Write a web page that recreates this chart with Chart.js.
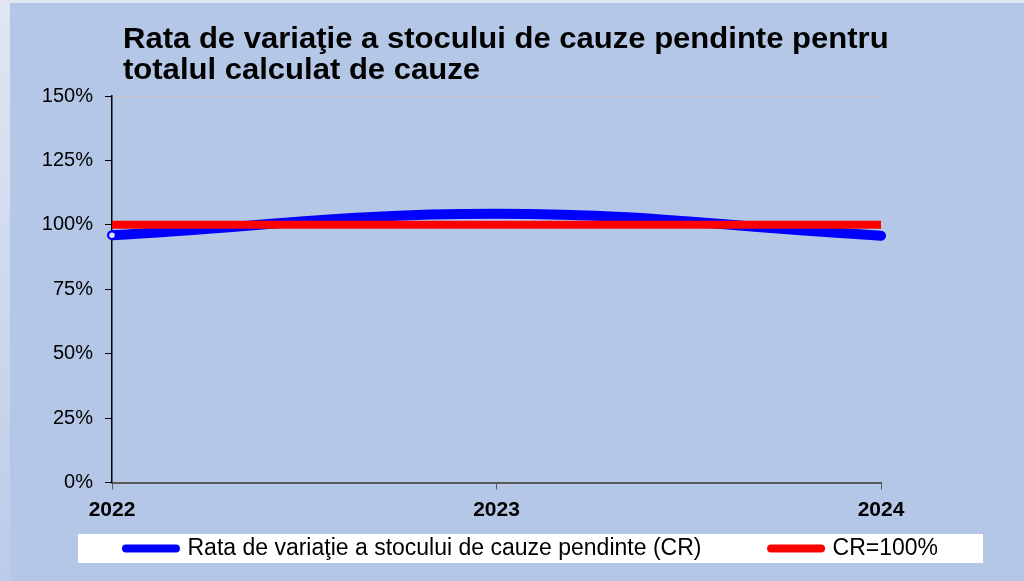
<!DOCTYPE html>
<html>
<head>
<meta charset="utf-8">
<script src="https://cdn.jsdelivr.net/npm/chart.js@4.4.0/dist/chart.umd.min.js"></script>
<style>
  html, body { margin: 0; padding: 0; background: #dde5f3; }
  #wrap { width: 1024px; height: 581px; }
</style>
</head>
<body>
<div id="wrap"><canvas id="rateChart"></canvas></div>
<script>
const years = ['2022', '2023', '2024'];
const crValues = [96.0, 104.3, 95.8];
const crTarget = [100, 100, 100];
const yTicks = [0, 25, 50, 75, 100, 125, 150];
const titleLines = ['Rata de variaţie a stocului de cauze pendinte pentru', 'totalul calculat de cauze'];
const seriesNames = ['Rata de variaţie a stocului de cauze pendinte (CR)', 'CR=100%'];

const FONT = "'Liberation Sans', Arial, sans-serif";

// page background, outer light strip and white legend band
const backdrop = {
  id: 'backdrop',
  beforeDraw(chart) {
    const { ctx, width, height } = chart;
    ctx.save();
    const g = ctx.createLinearGradient(0, 0, 0, height);
    g.addColorStop(0, '#e0e7f3');
    g.addColorStop(1, '#bccbe8');
    ctx.fillStyle = g;
    ctx.fillRect(0, 0, width, height);
    ctx.fillStyle = '#b4c7e7';
    ctx.fillRect(10, 3, width - 10, height - 3);

    const boxes = chart.legend && chart.legend.legendHitBoxes;
    if (boxes && boxes.length) {
      const first = boxes[0], last = boxes[boxes.length - 1];
      const midY = first.top + first.height / 2;
      const x0 = first.left - 48;
      const x1 = last.left + last.width + 45;
      ctx.fillStyle = '#ffffff';
      ctx.fillRect(x0, midY - 14.5, x1 - x0, 29);
    }
    ctx.restore();
  }
};

// two-line left aligned title, slightly widened like the original
const titleText = {
  id: 'titleText',
  afterDraw(chart) {
    const { ctx } = chart;
    ctx.save();
    ctx.fillStyle = '#000';
    ctx.font = 'bold 29px ' + FONT;
    ctx.textBaseline = 'alphabetic';
    ctx.textAlign = 'left';
    ctx.translate(123, 0);
    ctx.scale(1.07, 1);
    titleLines.forEach((t, i) => ctx.fillText(t, 0, 48 + i * 31));
    ctx.restore();
  }
};

new Chart(document.getElementById('rateChart'), {
  type: 'line',
  data: {
    labels: years,
    datasets: [
      {
        label: seriesNames[0],
        data: crValues,
        borderColor: '#0000ff',
        backgroundColor: '#0000ff',
        borderWidth: 10,
        tension: 0.4,
        borderCapStyle: 'round',
        pointRadius: 3.5,
        pointBorderWidth: 1.5,
        pointBackgroundColor: ['#dde5f3', '#0000ff', '#0000ff'],
        pointBorderColor: '#0000ff',
        clip: false,
        order: 1
      },
      {
        label: seriesNames[1],
        data: crTarget,
        borderColor: '#ff0000',
        backgroundColor: '#ff0000',
        borderWidth: 8,
        pointRadius: 0,
        borderCapStyle: 'butt',
        order: 0
      }
    ]
  },
  options: {
    responsive: true,
    maintainAspectRatio: false,
    animation: false,
    layout: { padding: { left: 40, right: 0, top: 96, bottom: 11 } },
    plugins: {
      title: { display: false },
      tooltip: { enabled: false },
      legend: {
        position: 'bottom',
        labels: {
          font: { family: FONT, size: 23 },
          color: '#000',
          usePointStyle: true,
          pointStyleWidth: 50,
          boxHeight: 8,
          padding: 18.5,
          generateLabels(chart) {
            return chart.data.datasets.map((ds, i) => ({
              // trailing spaces keep the wide gap between the two entries
              text: i === 0 ? ds.label + '        ' : ds.label,
              fillStyle: ds.borderColor,
              strokeStyle: ds.borderColor,
              lineWidth: 8,
              lineCap: 'round',
              pointStyle: 'line',
              hidden: false,
              fontColor: '#000',
              datasetIndex: i
            }));
          }
        }
      }
    },
    scales: {
      x: {
        offset: false,
        grid: { drawOnChartArea: false, drawTicks: true, tickLength: 7, tickColor: '#595959' },
        border: { color: '#595959', width: 2 },
        ticks: { color: '#000', font: { family: FONT, size: 21, weight: 'bold' }, padding: 8, maxRotation: 0 },
        afterFit(scale) { scale.height = 36; }
      },
      y: {
        min: 0,
        max: 150,
        afterBuildTicks(scale) { scale.ticks = yTicks.map(v => ({ value: v })); },
        ticks: { callback: v => v + '%', color: '#000', font: { family: FONT, size: 20 }, padding: 12 },
        grid: {
          drawOnChartArea: true,
          color: c => (c.tick && c.tick.value === 150 ? '#c8c8c8' : 'rgba(0,0,0,0)'),
          tickColor: '#000',
          tickLength: 7
        },
        border: { color: '#000', width: 1.5 },
        afterFit(scale) { scale.width = 72; }
      },
      yRight: {
        type: 'linear',
        position: 'right',
        display: true,
        grid: { display: false },
        ticks: { display: false },
        border: { display: false },
        afterFit(scale) { scale.width = 143; }
      }
    }
  },
  plugins: [backdrop, titleText]
});
</script>
</body>
</html>
